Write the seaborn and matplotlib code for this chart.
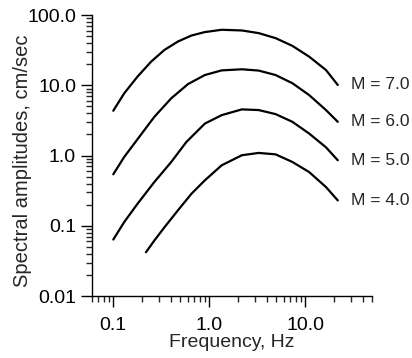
import seaborn as sns
import matplotlib.pyplot as plt
import matplotlib.ticker as mticker
import pandas as pd

# Curves (frequency in Hz, amplitude in cm/sec)
magnitudes = ["M = 7.0", "M = 6.0", "M = 5.0", "M = 4.0"]

freq_m7 = [0.1, 0.130, 0.179, 0.248, 0.342, 0.472, 0.653, 0.901, 1.35, 2.19, 3.28, 4.92, 7.37, 11.0, 16.5, 21.9]
amp_m7 = [4.34, 7.69, 13.3, 21.7, 31.9, 42.0, 51.1, 57.2, 61.7, 60.3, 55.3, 46.9, 36.4, 25.6, 16.5, 10.1]

freq_m6 = [0.1, 0.130, 0.179, 0.268, 0.402, 0.601, 0.901, 1.35, 2.19, 3.28, 4.92, 7.37, 11.0, 16.5, 21.9]
amp_m6 = [0.541, 0.955, 1.71, 3.56, 6.52, 10.4, 14.0, 16.3, 16.9, 16.2, 14.0, 10.7, 7.27, 4.44, 3.02]

freq_m5 = [0.1, 0.130, 0.179, 0.268, 0.402, 0.578, 0.901, 1.35, 2.19, 3.28, 4.92, 7.37, 11.0, 16.5, 21.9]
amp_m5 = [0.0637, 0.113, 0.206, 0.420, 0.810, 1.56, 2.85, 3.76, 4.54, 4.44, 3.89, 3.02, 2.06, 1.31, 0.857]

freq_m4 = [0.219, 0.268, 0.342, 0.472, 0.653, 0.901, 1.35, 2.19, 3.28, 4.92, 7.37, 11.0, 16.5, 21.9]
amp_m4 = [0.042, 0.0617, 0.0955, 0.166, 0.286, 0.444, 0.727, 1.01, 1.09, 1.04, 0.81, 0.583, 0.356, 0.23]

x_ticks = [0.1, 1.0, 10.0]
x_ticklabels = ["0.1", "1.0", "10.0"]
y_ticks = [0.01, 0.1, 1.0, 10.0, 100.0]
y_ticklabels = ["0.01", "0.1", "1.0", "10.0", "100.0"]

curves = [(freq_m7, amp_m7), (freq_m6, amp_m6), (freq_m5, amp_m5), (freq_m4, amp_m4)]
frames = []
for name, (f, a) in zip(magnitudes, curves):
    frames.append(pd.DataFrame({"freq": f, "amp": a, "M": name}))
df = pd.concat(frames, ignore_index=True)

sns.set_style("ticks")
plt.rcParams["font.family"] = ["Liberation Sans", "DejaVu Sans"]
plt.rcParams["font.size"] = 14

fig = plt.figure(figsize=(4.12, 3.58), dpi=100)
ax = fig.add_axes([0.2233, 0.173, 0.680, 0.785])

sns.lineplot(data=df, x="freq", y="amp", hue="M", palette=["black"] * 4,
             estimator=None, sort=False, legend=False, linewidth=1.6, ax=ax)

ax.set_xscale("log")
ax.set_yscale("log")
ax.set_xlim(0.06, 50)
ax.set_ylim(0.01, 100)

ax.xaxis.set_major_locator(mticker.FixedLocator(x_ticks))
ax.xaxis.set_major_formatter(mticker.FixedFormatter(x_ticklabels))
ax.xaxis.set_minor_locator(mticker.LogLocator(base=10, subs=range(2, 10), numticks=20))
ax.xaxis.set_minor_formatter(mticker.NullFormatter())
ax.yaxis.set_major_locator(mticker.FixedLocator(y_ticks))
ax.yaxis.set_major_formatter(mticker.FixedFormatter(y_ticklabels))
ax.yaxis.set_minor_locator(mticker.LogLocator(base=10, subs=range(2, 10), numticks=20))
ax.yaxis.set_minor_formatter(mticker.NullFormatter())

ax.tick_params(which="major", direction="out", length=8, width=1, labelsize=14, colors="black")
ax.tick_params(which="minor", direction="out", length=4, width=1)
ax.tick_params(axis="x", which="major", pad=7)

for side in ["top", "right"]:
    ax.spines[side].set_visible(False)
for side in ["left", "bottom"]:
    ax.spines[side].set_color("black")
    ax.spines[side].set_linewidth(1)

# magnitude labels next to curve ends
for name, (f, a) in zip(magnitudes, curves):
    ax.text(f[-1] * 1.38, a[-1], name, ha="left", va="center", fontsize=12.5)

ax.set_xlabel("Frequency, Hz", fontsize=14)
ax.set_ylabel("Spectral amplitudes, cm/sec", fontsize=14.5)
ax.xaxis.set_label_coords(0.5, -0.135)
ax.yaxis.set_label_coords(-0.215, 0.48)

fig.savefig("out.png", dpi=100)
